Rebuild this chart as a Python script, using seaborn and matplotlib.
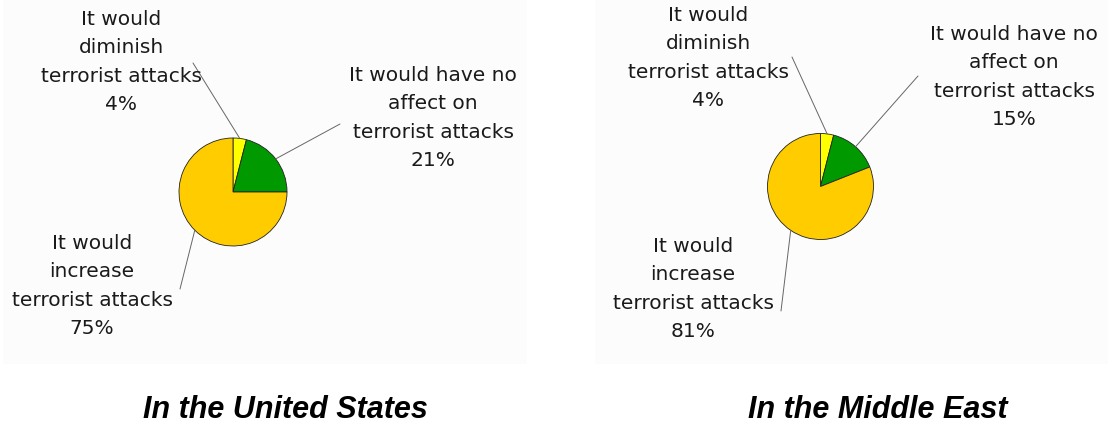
import numpy as np
import seaborn as sns
import matplotlib.pyplot as plt
from matplotlib.patches import Rectangle

sns.set_theme(style="white")
plt.rcParams['font.family'] = ['DejaVu Sans']

answers = ["It would\ndiminish\nterrorist attacks",
           "It would have no\naffect on\nterrorist attacks",
           "It would\nincrease\nterrorist attacks"]
us_pct = [4, 21, 75]
me_pct = [4, 15, 81]
titles = ["In the United States", "In the Middle East"]
colors = sns.color_palette(["#ffff00", "#009900", "#ffcc00"])

H = 427
fig = plt.figure(figsize=(11.09, 4.27), dpi=100)
fig.patch.set_facecolor("white")
ax = fig.add_axes([0, 0, 1, 1])

# panel layouts in pixel space (y measured from top)
panels = [
    dict(box=(3, 527), center=(233, 193), r=54,
         labels=[(121, 62), (433, 118), (92, 286)],
         ends=[(193, 64), (340, 125), (180, 290)],
         title_x=285),
    dict(box=(595, 1108), center=(820.5, 187.5), r=53,
         labels=[(708, 58), (1014, 77), (693, 289)],
         ends=[(792, 58), (918, 77), (781, 312)],
         title_x=878),
]

for p, pct, title in zip(panels, [us_pct, me_pct], titles):
    x0, x1 = p['box']
    ax.add_patch(Rectangle((x0, H - 365), x1 - x0, 365, facecolor="#fcfcfc",
                           edgecolor="none", zorder=0))
    cx, cy = p['center'][0], H - p['center'][1]
    wedges, _ = ax.pie(pct, colors=colors, startangle=90, counterclock=False,
                       radius=p['r'], center=(cx, cy),
                       wedgeprops=dict(edgecolor="#222222", linewidth=0.6))
    for w, name, v, (lx, ly), (ex, ey) in zip(wedges, answers, pct,
                                               p['labels'], p['ends']):
        mid = np.deg2rad((w.theta1 + w.theta2) / 2)
        xy = (cx + p['r'] * np.cos(mid), cy + p['r'] * np.sin(mid))
        ax.annotate("", xy=xy, xytext=(ex, H - ey),
                    arrowprops=dict(arrowstyle='-', color="#666666", lw=0.7,
                                    shrinkA=0, shrinkB=0))
        ax.text(lx, H - ly, f"{name}\n{v}%", ha='center', va='center',
                fontsize=14.5, linespacing=1.62, color="#1a1a1a")
    ax.text(p['title_x'], H - 410, title, ha='center', va='center',
            fontsize=22, fontweight='bold', fontstyle='italic', color='black',
            family=['Liberation Sans', 'DejaVu Sans'])

ax.set_xlim(0, 1109)
ax.set_ylim(0, H)
ax.set_aspect('equal')
ax.axis('off')
fig.savefig("out.png", dpi=100, facecolor="white")
